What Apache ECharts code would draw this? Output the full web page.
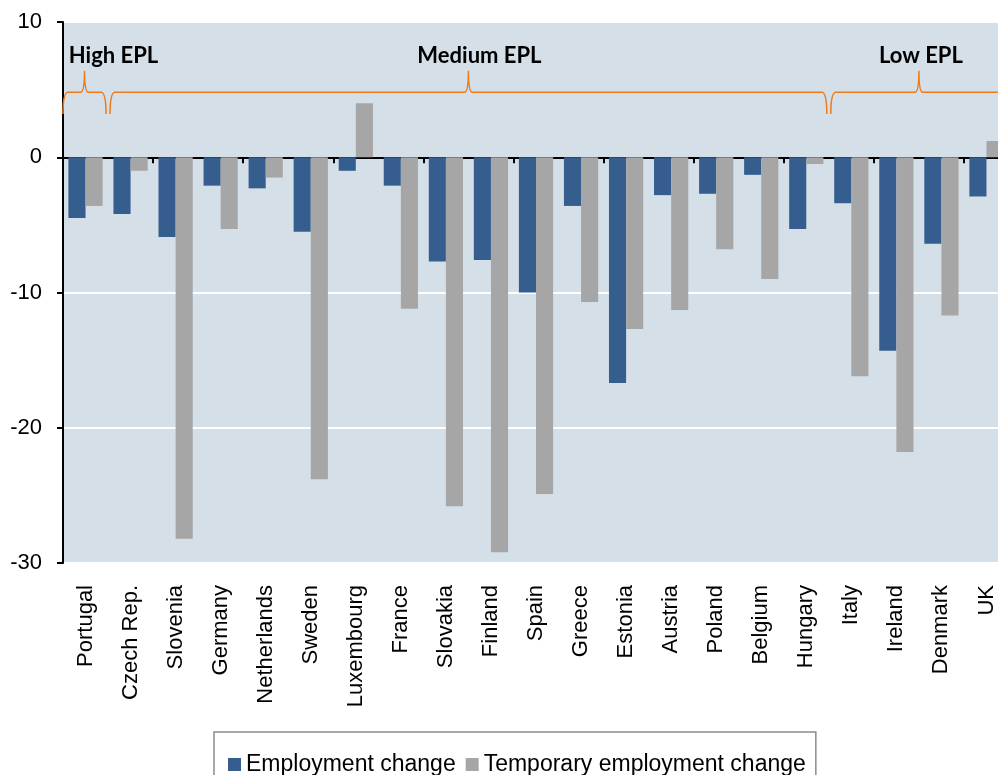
<!DOCTYPE html>
<html>
<head>
<meta charset="utf-8">
<script src="https://cdn.jsdelivr.net/npm/echarts@6/dist/echarts.min.js"></script>
<style>
  html, body { margin: 0; padding: 0; background: #fff; }
  #chart { width: 998px; height: 775px; }
</style>
</head>
<body>
<div id="chart"></div>
<script>
const countries = ['Portugal', 'Czech Rep.', 'Slovenia', 'Germany', 'Netherlands', 'Sweden', 'Luxembourg',
  'France', 'Slovakia', 'Finland', 'Spain', 'Greece', 'Estonia', 'Austria', 'Poland', 'Belgium',
  'Hungary', 'Italy', 'Ireland', 'Denmark', 'UK']
const employmentChange = [-4.5, -4.2, -5.9, -2.1, -2.3, -5.5, -1.0, -2.1, -7.7, -7.6, -10.0,
  -3.6, -16.7, -2.8, -2.7, -1.3, -5.3, -3.4, -14.3, -6.4, -2.9]
const temporaryChange = [-3.6, -1.0, -28.2, -5.3, -1.5, -23.8, 4.0, -11.2, -25.8, -29.2, -24.9,
  -10.7, -12.7, -11.3, -6.8, -9.0, -0.5, -16.2, -21.8, -11.7, 1.2]
// EPL groups: first and last category index of each brace
const eplNames = ['High EPL', 'Medium EPL', 'Low EPL']
const eplStart = [0, 1, 17]
const eplEnd = [0, 16, 20]

const axisFont = 'Liberation Sans, Arial, sans-serif'
const orange = '#EE7A1A'

const chart = echarts.init(document.getElementById('chart'), null, { renderer: 'canvas' })

// shift of each label from the brace tip, in px
const labelShift = [29, 11, 2]

function renderBrace(params, api) {
  const i0 = api.value(0)
  const i1 = api.value(1)
  const band = api.size([1, 0])[0]
  const inset = 2
  const x0 = api.coord([i0, 0])[0] - band / 2 + (i0 === 0 ? 0 : inset)
  const x1 = api.coord([i1, 0])[0] + band / 2 - inset
  const xc = (x0 + x1) / 2
  const yLine = api.coord([0, 4.8])[1]
  const yEnd = api.coord([0, 3.2])[1]
  const yTip = api.coord([0, 6.4])[1]
  const yText = api.coord([0, 7.5])[1]
  const r = 5
  const t = 4
  const d = [
    'M', x0, yEnd,
    'Q', x0, yLine, x0 + r, yLine,
    'L', xc - t, yLine,
    'Q', xc, yLine, xc, yTip,
    'Q', xc, yLine, xc + t, yLine,
    'L', x1 - r, yLine,
    'Q', x1, yLine, x1, yEnd
  ].join(' ')
  return {
    type: 'group',
    children: [
      {
        type: 'path',
        shape: { pathData: d },
        style: { fill: 'none', stroke: orange, lineWidth: 1.5 }
      },
      {
        type: 'text',
        x: xc + labelShift[params.dataIndex],
        y: yText,
        style: {
          text: eplNames[params.dataIndex],
          fill: '#000',
          font: 'bold 22px Lato, "Open Sans", sans-serif',
          align: 'center',
          verticalAlign: 'middle'
        }
      }
    ]
  }
}

chart.setOption({
  animation: false,
  backgroundColor: '#fff',
  color: ['#355E8F', '#A6A6A6'],
  grid: {
    left: 63,
    top: 22,
    right: -11,
    bottom: 212,
    outerBoundsMode: 'none',
    show: true,
    backgroundColor: '#D5DFE8',
    borderColor: '#A0A0A0',
    borderWidth: 1.5
  },
  legend: {
    data: ['Employment change', 'Temporary employment change'],
    left: 214,
    top: 732,
    orient: 'horizontal',
    padding: [21, 10, 20, 14],
    itemWidth: 13,
    itemHeight: 13,
    itemGap: 10,
    icon: 'rect',
    borderColor: '#8C8C8C',
    borderWidth: 1.5,
    textStyle: { fontSize: 23, color: '#000', fontFamily: axisFont }
  },
  xAxis: [
    {
      type: 'category',
      data: countries,
      position: 'bottom',
      axisLine: { show: false },
      axisTick: { show: false },
      axisLabel: {
        interval: 0,
        rotate: 90,
        margin: 22,
        fontSize: 22,
        color: '#000',
        fontFamily: axisFont
      }
    },
    {
      type: 'category',
      data: countries,
      position: 'bottom',
      axisLine: { show: true, onZero: true, onZeroAxisIndex: 0, lineStyle: { color: '#000', width: 2 } },
      axisTick: { show: true, length: 6, lineStyle: { color: '#000', width: 2 } },
      axisLabel: { show: false },
      splitLine: { show: false }
    }
  ],
  yAxis: {
    type: 'value',
    min: -30,
    max: 10,
    interval: 10,
    axisLine: { show: true, lineStyle: { color: '#000', width: 2 } },
    axisTick: { show: true, length: 6, lineStyle: { color: '#000', width: 2 } },
    axisLabel: { fontSize: 22, color: '#000', margin: 21, fontFamily: axisFont },
    splitLine: { show: true, lineStyle: { color: '#fff', width: 2 } }
  },
  series: [
    {
      name: 'Employment change',
      type: 'bar',
      data: employmentChange,
      barGap: '0%',
      barCategoryGap: '24%'
    },
    {
      name: 'Temporary employment change',
      type: 'bar',
      data: temporaryChange,
      barGap: '0%',
      barCategoryGap: '24%'
    },
    {
      name: 'EPL',
      type: 'custom',
      silent: true,
      z: 5,
      renderItem: renderBrace,
      data: eplNames.map((n, i) => [eplStart[i], eplEnd[i]])
    }
  ]
})
</script>
</body>
</html>
